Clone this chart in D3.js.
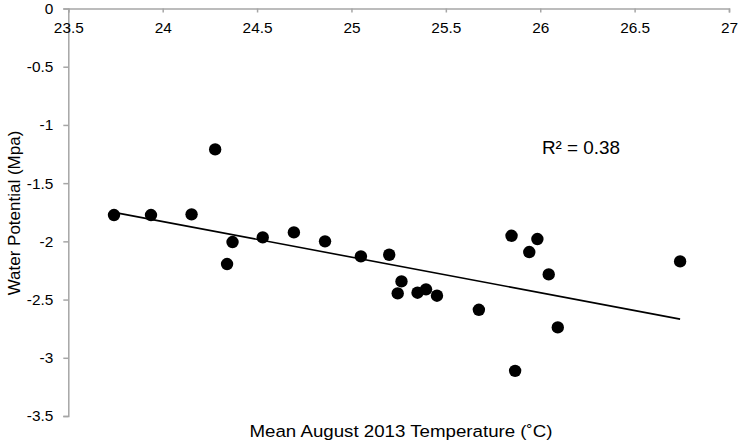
<!DOCTYPE html>
<html>
<head>
<meta charset="utf-8">
<script src="https://cdn.jsdelivr.net/npm/d3@7"></script>
<style>
  html, body { margin: 0; padding: 0; background: #fff; }
  svg { display: block; font-family: "Liberation Sans", Arial, sans-serif; }
</style>
</head>
<body>
<svg id="chart" width="743" height="447"></svg>
<script>
// Data
const temperature = [23.742, 23.938, 24.153, 24.278, 24.341, 24.370, 24.530, 24.695, 24.860, 25.050,
  25.200, 25.265, 25.245, 25.350, 25.395, 25.453, 25.675, 25.848, 25.867, 25.942, 25.985, 26.045,
  26.093, 26.741];
const waterPotential = [-1.774, -1.774, -1.768, -1.210, -2.195, -2.006, -1.966, -1.923, -2.000, -2.129,
  -2.115, -2.344, -2.447, -2.441, -2.412, -2.467, -2.588, -1.952, -3.112, -2.092, -1.980, -2.284,
  -2.739, -2.172];
// Linear trendline as drawn in the reference (value at first and last temperature)
const trendEnds = [-1.751, -2.668];
const xTicks = [23.5, 24, 24.5, 25, 25.5, 26, 26.5, 27];
const yTicks = [0, -0.5, -1, -1.5, -2, -2.5, -3, -3.5];
const r2Label = "R² = 0.38";
const xTitle = "Mean August 2013 Temperature (˚C)";
const yTitle = "Water Potential (Mpa)";

const svg = d3.select("#chart");
const x = d3.scaleLinear().domain([23.5, 27]).range([68.3, 729]);
const y = d3.scaleLinear().domain([0, -3.5]).range([8.5, 416]);
const axisColor = "#a6a6a6";
const stretch = 1.1;

// Y axis (at x = 23.5)
const yAxis = svg.append("g").attr("transform", `translate(${x(23.5)},0)`)
  .call(d3.axisLeft(y).tickValues(yTicks).tickSize(5).tickPadding(10)
    .tickFormat(d => String(d)));
// X axis at y = 0
const xAxis = svg.append("g").attr("transform", `translate(0,${y(0)})`)
  .call(d3.axisBottom(x).tickValues(xTicks).tickSize(4).tickPadding(11)
    .tickFormat(d => String(d)));

[yAxis, xAxis].forEach(g => {
  g.select(".domain").attr("stroke", axisColor).attr("stroke-width", 1.5);
  g.selectAll(".tick line").attr("stroke", axisColor).attr("stroke-width", 1.5);
  g.selectAll(".tick text").attr("fill", "#000").attr("font-size", 14)
    .attr("font-family", "'Liberation Sans', Arial, sans-serif")
    .each(function () {
      const t = d3.select(this);
      const xv = +t.attr("x") || 0;
      t.attr("x", 0).attr("transform", `translate(${xv},0) scale(${stretch},1)`);
    });
});
yAxis.selectAll(".tick text").attr("dy", "0.35em");

// Trend line
const x0 = d3.min(temperature), x1 = d3.max(temperature);
svg.append("line")
  .attr("x1", x(x0)).attr("y1", y(trendEnds[0]))
  .attr("x2", x(x1)).attr("y2", y(trendEnds[1]))
  .attr("stroke", "#000").attr("stroke-width", 1.6);

// Points
svg.append("g").selectAll("circle")
  .data(temperature.map((t, i) => ({ t, w: waterPotential[i] })))
  .join("circle")
  .attr("cx", d => x(d.t)).attr("cy", d => y(d.w)).attr("r", 6.2)
  .attr("fill", "#000");

// R² label
svg.append("text").attr("transform", "translate(581,154) scale(1.05,1)")
  .attr("text-anchor", "middle")
  .attr("font-size", 18).attr("fill", "#000").text(r2Label);

// Axis titles
svg.append("text").attr("transform", `translate(401,437) scale(${stretch},1)`)
  .attr("text-anchor", "middle")
  .attr("font-size", 17).attr("fill", "#000").text(xTitle);
svg.append("text").attr("transform", "translate(20,213) rotate(-90)")
  .attr("text-anchor", "middle").attr("font-size", 17).attr("fill", "#000").text(yTitle);
</script>
</body>
</html>
